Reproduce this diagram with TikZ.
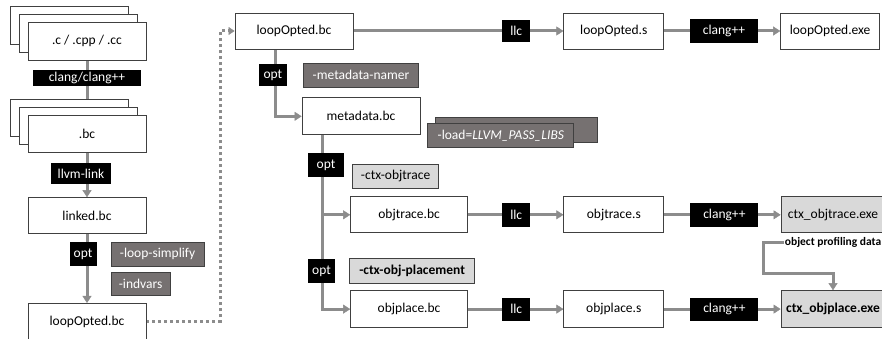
\documentclass[tikz,border=0pt]{standalone}
\usepackage{fontspec}
\setmainfont{Carlito}
\usetikzlibrary{positioning, calc, arrows.meta, decorations.markings, shadows}
\definecolor{flowgray}{HTML}{8C8C8C}
\definecolor{boxline}{HTML}{404040}
\definecolor{passdark}{HTML}{767171}
\definecolor{passlight}{HTML}{D9D9D9}
\pgfdeclarelayer{bg}
\pgfsetlayers{bg,main}
\tikzstyle{File} = [draw=boxline, line width=0.8pt, fill=white,
minimum width=118pt, minimum height=36pt, inner sep=2pt]
\tikzstyle{Stack} = [
copy shadow={shadow xshift=-18pt, shadow yshift=16pt, draw=boxline, fill=white},
copy shadow={shadow xshift=-9pt, shadow yshift=8pt, draw=boxline, fill=white}]
\tikzstyle{Exe} = [File, fill=passlight, minimum width=104pt]
\tikzstyle{Tool} = [fill=black, text=white, inner sep=1pt]
\tikzstyle{Pass} = [draw=boxline, line width=0.8pt, fill=passdark, text=white,
minimum height=24pt, inner sep=2pt]
\tikzstyle{NewPass} = [draw=boxline, line width=0.8pt, fill=passlight,
minimum height=24pt, inner sep=2pt]
\tikzstyle{Arrow} = [
line width=3pt, draw=flowgray,
decoration={
markings,
mark=at position 0.9999 with {
\arrow[flowgray]{Triangle[length=7pt, width=9pt, line width=0.4pt]}}},
shorten >= 5pt, preaction = {decorate}]
\tikzstyle{Dots} = [
line width=3pt, draw=flowgray, dash pattern=on 3pt off 3pt,
decoration={
markings,
mark=at position 0.9999 with {
\arrow[flowgray]{Triangle[length=6pt, width=8pt, line width=0.4pt]}}},
shorten >= 5pt, preaction = {decorate}]

\begin{document}
\begin{tikzpicture}[x=1pt, y=-1pt, font=\fontsize{13.5}{16}\selectfont]
    \useasboundingbox (0,0) rectangle (882,339);

    % front end
    \node [File, Stack, minimum height=38pt] (src) at (87,41) {.c / .cpp / .cc};
    \node [File, Stack, minimum height=37pt, below=55pt of src] (bc) {.bc};
    \node [File, below=44pt of bc] (linked) {linked.bc};
    \node [File, below=69pt of linked] (loop) {loopOpted.bc};
    \node [Tool, minimum width=108pt, minimum height=16pt, below=9pt of src] (clang) {clang/clang++};
    \node [Tool, minimum width=60pt, minimum height=21pt, below=10pt of bc, xshift=-6pt] (link) {llvm-link};
    \node [Tool, minimum width=27pt, minimum height=24pt, below=8pt of linked, xshift=-4pt] (optA) {opt};
    \node [Pass, minimum width=93pt, right=14pt of optA] (simp) {-loop-simplify};
    \node [Pass, minimum width=59pt, minimum height=23pt, below=5pt of simp.south west, anchor=north west] (indv) {-indvars};

    % baseline build
    \node [File] (lopt) at (294,31) {loopOpted.bc};
    \node [File, minimum width=100pt, right=210pt of lopt] (lopts) {loopOpted.s};
    \node [File, minimum width=99pt, right=116pt of lopts] (lopte) {loopOpted.exe};
    \node [Tool, minimum width=28pt, minimum height=22pt, left=33pt of lopts] (llcA) {llc};
    \node [Tool, minimum width=68pt, minimum height=24pt, left=22pt of lopte] (clangA) {clang++};

    % metadata
    \node [File, minimum height=37pt, below=48pt of lopt, xshift=67pt] (meta) {metadata.bc};
    \node [Pass, minimum width=115pt, above=10pt of meta] (namer) {-metadata-namer};
    \node [Tool, minimum width=28pt, minimum height=22pt, left=16pt of namer] (optB) {opt};
    \node [Pass, minimum width=162pt, minimum height=25pt, right=15pt of meta, yshift=-14pt] (loadB) {};
    \node [Pass, minimum width=146pt, anchor=south] (loadA) at ([xshift=-16pt, yshift=-5pt]loadB.south)
        {-load=\textit{LLVM\_PASS\_LIBS}};

    % object trace
    \node [File, minimum width=100pt, below=147pt of lopts] (traces) {objtrace.s};
    \node [Tool, minimum width=28pt, minimum height=24pt, left=33pt of traces] (llcB) {llc};
    \node [File, minimum width=117pt, left=34pt of llcB] (trace) {objtrace.bc};
    \node [Tool, minimum width=68pt, minimum height=24pt, right=26pt of traces] (clangB) {clang++};
    \node [Exe, right=22pt of clangB] (tracee) {ctx\_objtrace.exe};
    \node [font=\bfseries\fontsize{11.5}{13}\selectfont, inner sep=1pt, below=3pt of tracee.south east, anchor=north east, xshift=-3pt] (prof) {object profiling data};
    \node [NewPass, minimum width=86pt, above=8pt of trace.north west, anchor=south west, xshift=2pt] (ctrace) {-ctx-objtrace};
    \node [Tool, minimum width=36pt, minimum height=23pt, left=8pt of ctrace, yshift=11pt] (optC) {opt};

    % object placement
    \node [File, minimum width=100pt, minimum height=37pt, below=57pt of traces] (places) {objplace.s};
    \node [Tool, minimum width=28pt, minimum height=23pt, left=33pt of places] (llcC) {llc};
    \node [File, minimum width=117pt, minimum height=37pt, left=34pt of llcC] (place) {objplace.bc};
    \node [Tool, minimum width=68pt, minimum height=23pt, right=26pt of places] (clangC) {clang++};
    \node [Exe, minimum height=37pt, right=22pt of clangC] (placee) {\textbf{ctx\_objplace.exe}};
    \node [NewPass, minimum width=125pt, minimum height=25pt, above=6pt of place.north west, anchor=south west, xshift=-1pt] (cplace) {\textbf{-ctx-obj-placement}};
    \node [Tool, minimum width=27pt, minimum height=24pt, left=14pt of cplace] (optD) {opt};

    \begin{pgfonlayer}{bg}
    \draw[Arrow] (src.south) -- (bc.north);
    \draw[Arrow] (bc.south) -- (linked.north);
    \draw[Arrow] (linked.south) -- (loop.north);
    \coordinate [right=74pt of loop.east] (turn);
    \draw[Dots] (loop.east) -- (turn) |- (lopt.west);

    \draw[Arrow] (lopt.east) -- (lopts.west);
    \draw[Arrow] (lopts.east) -- (lopte.west);
    \coordinate (brA) at ([xshift=-19pt]lopt.south);
    \draw[Arrow] (brA) |- (meta.west);
    \coordinate (brB) at ([xshift=-39pt]meta.south);
    \draw[Arrow] (brB) |- (trace.west);
    \draw[Arrow] (brB) |- (place.west);

    \draw[Arrow] (trace.east) -- (traces.west);
    \draw[Arrow] (traces.east) -- (tracee.west);
    \draw[Arrow] (place.east) -- (places.west);
    \draw[Arrow] (places.east) -- (placee.west);
    \draw[Arrow] (prof.west) -- ++(-20,0) |- ([yshift=17pt]placee.north) -- (placee.north);
    \end{pgfonlayer}
\end{tikzpicture}
\end{document}
